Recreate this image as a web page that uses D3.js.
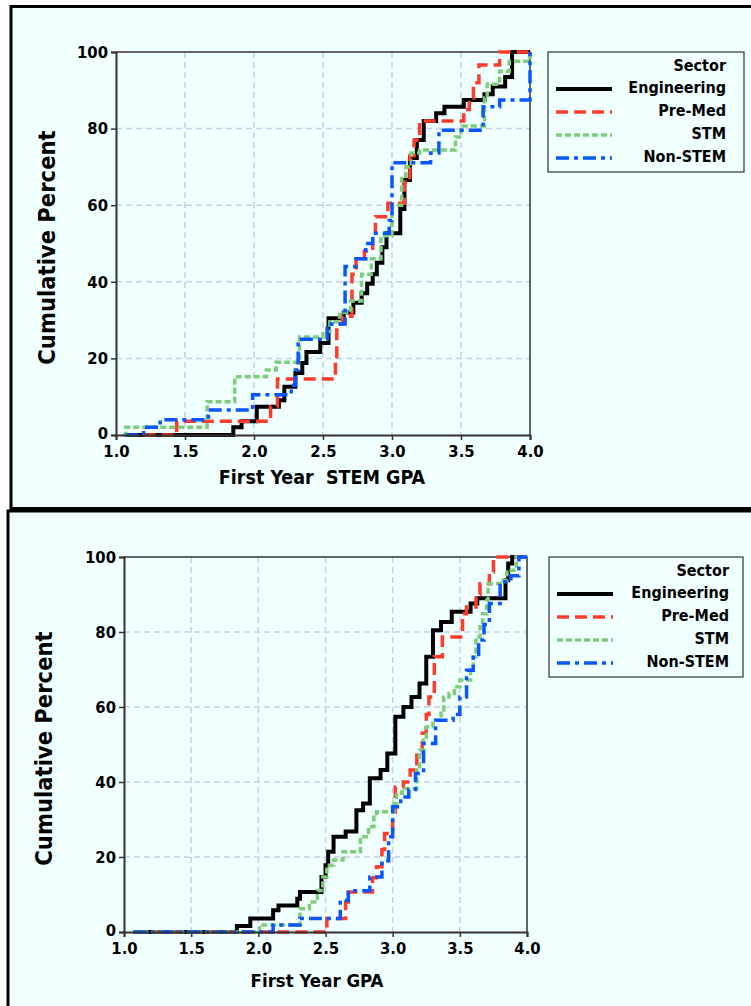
<!DOCTYPE html>
<html>
<head>
<meta charset="utf-8">
<script src="https://cdn.jsdelivr.net/npm/d3@7"></script>
<style>
  body { margin: 0; background: #fff; }
  svg text { font-family: "DejaVu Sans Condensed", "DejaVu Sans", sans-serif; font-weight: bold; }
</style>
</head>
<body>
<svg id="chart" width="751" height="1006"></svg>
<script>
const sectors = ["Engineering", "Pre-Med", "STM", "Non-STEM"];
const gpaTicks = [1.0, 1.5, 2.0, 2.5, 3.0, 3.5, 4.0];
const pctTicks = [0, 20, 40, 60, 80, 100];

// step points: [gpa, cumulative percent reached at that gpa]
const stemEngineering = [[1.07,0],[1.85,2],[1.91,3.6],[2.02,7.4],[2.18,9.1],[2.22,12.6],[2.30,16.2],[2.35,18.8],[2.38,21.7],[2.48,24],[2.54,30.5],[2.65,32],[2.72,34.5],[2.78,37],[2.82,39.5],[2.86,42],[2.89,45],[2.93,49],[2.96,52.7],[3.06,59],[3.09,66.6],[3.13,72.3],[3.18,77],[3.23,82],[3.32,84],[3.38,85.7],[3.52,87.5],[3.67,89],[3.73,91],[3.82,93.5],[3.87,100],[4.0,100]];
const stemPreMed = [[1.20,0],[1.44,3.6],[2.12,7.4],[2.17,14.6],[2.59,19],[2.60,29],[2.64,31],[2.71,42],[2.74,46],[2.80,48],[2.86,52],[2.88,57],[2.97,60.5],[3.09,66],[3.13,73],[3.16,77],[3.20,82],[3.52,85],[3.56,88],[3.59,92],[3.63,96.6],[3.78,100],[4.0,100]];
const stemSTM = [[1.05,0],[1.07,2],[1.66,8.7],[1.86,15.2],[2.09,17],[2.16,19],[2.33,25.6],[2.50,27],[2.55,29.6],[2.62,32],[2.70,35],[2.78,42],[2.85,46],[2.92,52],[3.0,60],[3.07,67],[3.10,70],[3.14,73.6],[3.20,74.4],[3.46,77.8],[3.50,80.7],[3.67,88],[3.69,91.6],[3.78,95],[3.85,97.6],[4.0,100]];
const stemNonSTEM = [[1.07,0],[1.20,2],[1.32,4],[1.67,6.5],[1.99,10.5],[2.27,13],[2.30,17],[2.32,25],[2.53,29],[2.66,44],[2.74,46],[2.81,50],[2.86,52.7],[2.98,56],[3.0,71.1],[3.28,73.6],[3.34,79.6],[3.66,85.7],[3.78,87.5],[4.0,100]];

const allEngineering = [[1.07,0],[1.84,1.6],[1.94,3.6],[2.11,5.8],[2.15,7.1],[2.29,8.9],[2.31,10.7],[2.47,14.7],[2.50,17.8],[2.52,21.4],[2.56,25.4],[2.65,26.8],[2.73,32.5],[2.78,34.3],[2.83,41],[2.91,43.2],[2.96,47.6],[3.02,57.4],[3.08,60],[3.14,62.7],[3.20,66.3],[3.25,73.4],[3.30,80.5],[3.36,82.7],[3.44,85.4],[3.58,87.6],[3.63,89],[3.84,93.8],[3.86,98.3],[3.89,100],[4.0,100]];
const allPreMed = [[1.07,0],[2.51,3.6],[2.65,8],[2.67,10.7],[2.85,14.5],[2.88,17.4],[2.92,22],[2.94,26.3],[3.0,32],[3.02,38.7],[3.08,40],[3.13,43.2],[3.18,48],[3.22,53],[3.25,58],[3.27,62.7],[3.31,73.4],[3.37,78.7],[3.52,84.9],[3.55,86.7],[3.62,90],[3.65,92.9],[3.72,96],[3.75,100],[4.0,100]];
const allSTM = [[1.07,0],[2.01,1.9],[2.31,6.2],[2.38,8],[2.44,11.1],[2.48,14.7],[2.51,17.8],[2.56,19.2],[2.63,21.4],[2.76,25.4],[2.82,28.1],[2.86,31.6],[2.88,32.1],[3.01,34.3],[3.03,37],[3.07,38.3],[3.18,43.2],[3.20,48.5],[3.23,51.2],[3.25,54.7],[3.30,56.5],[3.36,59.2],[3.38,62.7],[3.42,63.6],[3.46,65.4],[3.50,67.2],[3.58,70],[3.60,73.4],[3.62,78.7],[3.65,81.4],[3.67,84.9],[3.70,88.5],[3.71,92.9],[3.80,93.8],[3.85,96.5],[3.92,100],[4.0,100]];
const allNonSTEM = [[1.07,0],[2.11,1.9],[2.31,3.6],[2.61,8.4],[2.67,11],[2.83,14.7],[2.92,19],[2.97,25.4],[3.0,33.4],[3.06,36],[3.12,38],[3.17,42.3],[3.23,50.3],[3.32,56.5],[3.45,58],[3.50,62.7],[3.55,69.8],[3.60,74],[3.64,77.9],[3.68,82],[3.72,87.6],[3.80,93.4],[3.88,95],[3.94,100],[4.0,100]];

const styles = {
  "Engineering": { color: "#000000", dash: null, width: 4 },
  "Pre-Med": { color: "#ff3b2a", dash: "12,6", width: 3.5 },
  "STM": { color: "#7fcc7a", dash: "6,3", width: 3.5 },
  "Non-STEM": { color: "#0a55ff", dash: "13,5,4,5", width: 3.5 }
};

const svg = d3.select("#chart");

// panel frames
svg.append("rect").attr("x", 11).attr("y", 6.5).attr("width", 800).attr("height", 502)
  .attr("fill", "#f0ffff").attr("stroke", "#000").attr("stroke-width", 3);
svg.append("rect").attr("x", 8).attr("y", 511).attr("width", 800).attr("height", 520)
  .attr("fill", "#f0ffff").attr("stroke", "#000").attr("stroke-width", 3);

function drawPanel(p) {
  const x = d3.scaleLinear().domain([1, 4]).range([p.left, p.right]);
  const y = d3.scaleLinear().domain([0, 100]).range([p.bottom, p.top]);
  const g = svg.append("g");

  // grid
  g.append("g").selectAll("line").data(gpaTicks.slice(1, -1)).join("line")
    .attr("x1", d => x(d)).attr("x2", d => x(d)).attr("y1", p.top).attr("y2", p.bottom)
    .attr("stroke", "#c6d0ec").attr("stroke-width", 1.5).attr("stroke-dasharray", "6,4");
  g.append("g").selectAll("line").data(pctTicks.slice(1, -1)).join("line")
    .attr("x1", p.left).attr("x2", p.right).attr("y1", d => y(d)).attr("y2", d => y(d))
    .attr("stroke", "#c6d0ec").attr("stroke-width", 1.5).attr("stroke-dasharray", "6,4");

  // frame top/right
  g.append("path").attr("d", `M${p.left},${p.top}H${p.right}V${p.bottom}`)
    .attr("fill", "none").attr("stroke", "#333").attr("stroke-width", 1.5);

  // series
  const line = d3.line().x(d => x(d[0])).y(d => y(d[1])).curve(d3.curveStepAfter);
  p.series.forEach((s, i) => {
    const st = styles[sectors[i]];
    g.append("path").datum(s).attr("d", line)
      .attr("fill", "none").attr("stroke", st.color).attr("stroke-width", st.width)
      .attr("stroke-dasharray", st.dash);
  });

  // axes
  const xAxis = g.append("g").attr("transform", `translate(0,${p.bottom})`)
    .call(d3.axisBottom(x).tickValues(gpaTicks).tickFormat(d3.format(".1f")).tickSizeOuter(0).tickSize(5).tickPadding(5));
  const yAxis = g.append("g").attr("transform", `translate(${p.left},0)`)
    .call(d3.axisLeft(y).tickValues(pctTicks).tickSizeOuter(0).tickSize(5).tickPadding(3));
  [xAxis, yAxis].forEach(a => {
    a.select(".domain").attr("stroke", "#333").attr("stroke-width", 2);
    a.selectAll(".tick line").attr("stroke", "#333").attr("stroke-width", 1.5);
    a.selectAll("text").attr("fill", "#000").style("font-size", "16.5px");
  });
  // lift the "0" label a touch so it clears the first x label
  yAxis.selectAll(".tick").filter(d => d === 0).select("text").attr("dy", "0.2em");

  // titles
  g.append("text").attr("transform", `translate(${p.yTitleX},${(p.top + p.bottom) / 2 + 4}) rotate(-90)`)
    .attr("text-anchor", "middle").style("font-size", "23.5px").text("Cumulative Percent");
  g.append("text").attr("x", p.xTitleX).attr("y", p.xTitleY).attr("text-anchor", "middle")
    .attr("xml:space", "preserve").style("font-size", p.xTitleSize).text(p.xTitle);

  // legend
  const L = p.legend;
  g.append("rect").attr("x", L.x).attr("y", L.y).attr("width", L.w).attr("height", L.h)
    .attr("fill", "#f0ffff").attr("stroke", "#333").attr("stroke-width", 1.2);
  g.append("text").attr("x", L.textX).attr("y", L.y + 19).attr("text-anchor", "end")
    .style("font-size", "16px").text("Sector");
  sectors.forEach((name, i) => {
    const st = styles[name];
    const yy = L.y + 41 + i * 23;
    g.append("line").attr("x1", L.x + 8).attr("x2", L.x + 64).attr("y1", yy - 4).attr("y2", yy - 4)
      .attr("stroke", st.color).attr("stroke-width", st.width).attr("stroke-dasharray", st.dash);
    g.append("text").attr("x", L.textX).attr("y", yy).attr("text-anchor", "end")
      .style("font-size", "16px").text(name);
  });
}

drawPanel({
  left: 116, right: 530, top: 52, bottom: 435,
  series: [stemEngineering, stemPreMed, stemSTM, stemNonSTEM],
  yTitleX: 55, xTitleX: 322, xTitleY: 484, xTitleSize: "19.5px", xTitle: "First Year  STEM GPA",
  legend: { x: 548, y: 52, w: 196, h: 120, textX: 726 }
});
drawPanel({
  left: 124, right: 527, top: 557, bottom: 932,
  series: [allEngineering, allPreMed, allSTM, allNonSTEM],
  yTitleX: 52, xTitleX: 317, xTitleY: 987, xTitleSize: "18.5px", xTitle: "First Year GPA",
  legend: { x: 549, y: 557, w: 194, h: 120, textX: 729 }
});
</script>
</body>
</html>
